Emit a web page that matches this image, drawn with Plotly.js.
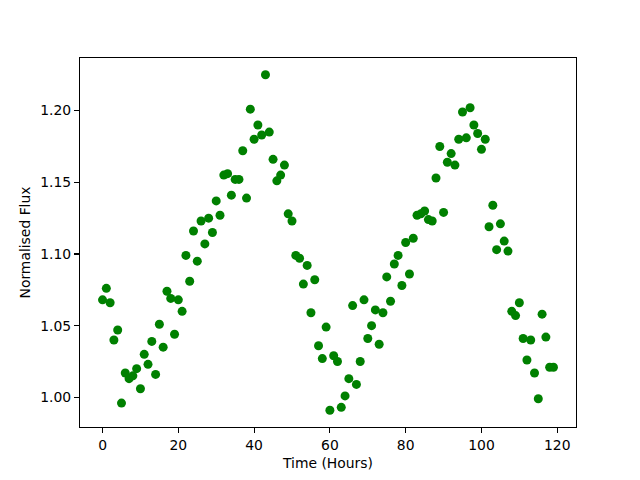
<!DOCTYPE html>
<html>
<head>
<meta charset="utf-8">
<script src="https://cdn.plot.ly/plotly-3.0.1.min.js"></script>
<style>html,body{margin:0;padding:0;background:#fff;}#chart{width:640px;height:480px;}</style>
</head>
<body>
<div id="chart"></div>
<script>
const timeHours = [
  0,1,2,3,4,5,6,7,8,9,10,11,12,13,14,15,16,17,18,19,
  20,21,22,23,24,25,26,27,28,29,30,31,32,33,34,35,36,37,38,39,
  40,41,42,43,44,45,46,47,48,49,50,51,52,53,54,55,56,57,58,59,
  60,61,62,63,64,65,66,67,68,69,70,71,72,73,74,75,76,77,78,79,
  80,81,82,83,84,85,86,87,88,89,90,91,92,93,94,95,96,97,98,99,
  100,101,102,103,104,105,106,107,108,109,110,111,112,113,114,115,116,117,118,119
];
const normalisedFlux = [
  1.068,1.076,1.066,1.040,1.047,0.996,1.017,1.013,1.015,1.020,
  1.006,1.030,1.023,1.039,1.016,1.051,1.035,1.074,1.069,1.044,
  1.068,1.060,1.099,1.081,1.116,1.095,1.123,1.107,1.125,1.115,
  1.137,1.127,1.155,1.156,1.141,1.152,1.152,1.172,1.139,1.201,
  1.180,1.190,1.183,1.225,1.185,1.166,1.151,1.155,1.162,1.128,
  1.123,1.099,1.097,1.079,1.092,1.059,1.082,1.036,1.027,1.049,
  0.991,1.029,1.025,0.993,1.001,1.013,1.064,1.009,1.025,1.068,
  1.041,1.050,1.061,1.037,1.059,1.084,1.067,1.093,1.099,1.078,
  1.108,1.086,1.111,1.127,1.128,1.130,1.124,1.123,1.153,1.175,
  1.129,1.164,1.170,1.162,1.180,1.199,1.181,1.202,1.190,1.184,
  1.173,1.180,1.119,1.134,1.103,1.121,1.109,1.102,1.060,1.057,
  1.066,1.041,1.026,1.040,1.017,0.999,1.058,1.042,1.021,1.021
];
const xTicks = [0,20,40,60,80,100,120];
const yTicks = [1.00,1.05,1.10,1.15,1.20];

const font = {family: 'DejaVu Sans', size: 13.9, color: '#000'};
const axisBase = {
  showline: true, mirror: true, linecolor: '#000', linewidth: 1.1,
  ticks: 'outside', ticklen: 4.9, tickwidth: 1.1, tickcolor: '#000',
  showgrid: false, zeroline: false, tickfont: font
};
const trace = {
  x: timeHours, y: normalisedFlux, type: 'scatter', mode: 'markers',
  marker: {color: 'green', size: 9, line: {width: 0}}
};
const layout = {
  width: 640, height: 480,
  margin: {l: 80, r: 64, t: 58, b: 53},
  paper_bgcolor: '#fff', plot_bgcolor: '#fff',
  showlegend: false, font: font,
  xaxis: Object.assign({}, axisBase, {
    range: [-5.95, 124.95], tickvals: xTicks, ticktext: xTicks.map(String),
    title: {text: 'Time (Hours)', font: font, standoff: 6}
  }),
  yaxis: Object.assign({}, axisBase, {
    range: [0.9793, 1.2367], tickvals: yTicks, ticktext: yTicks.map(v => v.toFixed(2)),
    title: {text: 'Normalised Flux', font: font, standoff: 6}
  })
};
Plotly.newPlot('chart', [trace], layout, {staticPlot: true, displayModeBar: false});
</script>
</body>
</html>
